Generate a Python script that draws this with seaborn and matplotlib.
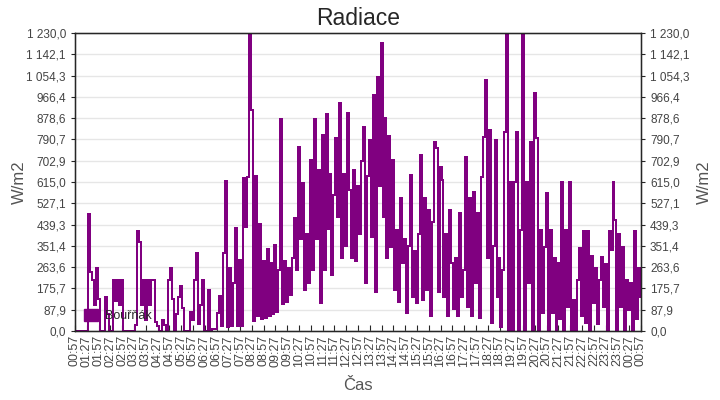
import numpy as np
import pandas as pd
import matplotlib
matplotlib.use("Agg")
import matplotlib.pyplot as plt
from matplotlib.patches import Patch
from matplotlib.ticker import FuncFormatter
import seaborn as sns

# radiation samples every 5 minutes from 00:57 to 00:57 next day (W/m2)
# one row = one hour
radiace = [
    0, 0, 0, 0, 0, 0, 0, 483, 245, 210, 107, 260,
    132, 0, 0, 0, 142, 70, 0, 0, 210, 124, 210, 107,
    210, 0, 0, 0, 0, 0, 0, 25, 413, 367, 107, 210,
    45, 210, 107, 210, 210, 38, 20, 0, 0, 45, 25, 0,
    210, 260, 132, 0, 70, 142, 185, 95, 0, 0, 0, 78,
    45, 210, 320, 28, 107, 210, 0, 0, 170, 0, 7, 7,
    10, 74, 144, 20, 320, 620, 15, 260, 20, 200, 425, 20,
    293, 20, 630, 430, 637, 1230, 912, 40, 640, 60, 440, 50,
    290, 55, 340, 60, 280, 70, 355, 80, 250, 874, 110, 290,
    120, 260, 150, 300, 467, 250, 760, 380, 610, 170, 400, 200,
    705, 250, 874, 380, 665, 115, 809, 250, 895, 420, 650, 230,
    560, 797, 470, 942, 300, 650, 350, 900, 580, 300, 665, 290,
    600, 400, 700, 840, 200, 640, 788, 390, 975, 160, 1050, 600,
    1190, 470, 880, 300, 805, 345, 705, 170, 415, 120, 550, 280,
    380, 75, 350, 645, 140, 330, 115, 400, 725, 130, 550, 170,
    500, 60, 450, 780, 755, 160, 675, 623, 140, 400, 60, 500,
    280, 90, 300, 60, 487, 140, 250, 720, 100, 549, 60, 573,
    200, 487, 54, 637, 801, 1036, 300, 830, 33, 350, 788, 140,
    300, 17, 250, 821, 1230, 0, 615, 0, 615, 821, 0, 415,
    1230, 0, 615, 200, 780, 0, 984, 797, 0, 415, 75, 345,
    570, 0, 417, 75, 300, 0, 280, 50, 615, 0, 415, 100,
    615, 0, 128, 0, 210, 342, 60, 413, 33, 413, 0, 310,
    115, 261, 30, 210, 305, 100, 277, 0, 413, 335, 616, 457,
    0, 400, 100, 348, 0, 210, 87, 200, 0, 413, 50, 261,
    140,
]
krok_min = 5
start = "00:57"
y_max = 1230.0
y_kroky = 14
serie = "Bouřňák"
barva = "#800080"

minuty = np.arange(len(radiace)) * krok_min
df = pd.DataFrame({"minuty": minuty, "radiace": radiace})

# x ticks every 30 minutes, labelled with clock time
x_ticks = np.arange(0, 1441, 30)
t0 = pd.Timestamp("2020-01-01 " + start)
x_labels = [(t0 + pd.Timedelta(minutes=int(m))).strftime("%H:%M") for m in x_ticks]
y_ticks = np.linspace(0, y_max, y_kroky + 1)


def cz_format(v, pos=None):
    return f"{v:,.1f}".replace(",", " ").replace(".", ",")


sns.set_style("white")
plt.rcParams["font.family"] = ["Liberation Sans", "DejaVu Sans"]

fig = plt.figure(figsize=(7.2, 4.0), dpi=100)
ax = fig.add_axes([75 / 720, 1 - 331 / 400, 566 / 720, 298 / 400])

sns.lineplot(data=df, x="minuty", y="radiace", ax=ax, color=barva,
             linewidth=1.4, drawstyle="steps-mid", estimator=None,
             antialiased=False)

ax.set_xlim(0, 1440)
ax.set_ylim(0, y_max)
ax.set_yticks(y_ticks)
ax.yaxis.set_major_formatter(FuncFormatter(cz_format))
ax.set_xticks(x_ticks)
ax.set_xticklabels(x_labels, rotation=90)
ax.grid(axis="y", color="#e6e6e6", linewidth=1)
ax.set_axisbelow(True)

ax.tick_params(axis="x", direction="in", length=4, bottom=True, labelsize=9,
               labelcolor="#444444", pad=3)
ax.tick_params(axis="y", direction="out", length=3, left=True, labelsize=8.5,
               labelcolor="#444444")
for s in ax.spines.values():
    s.set_color("black")
    s.set_linewidth(1)

ax2 = ax.twinx()
ax2.set_ylim(0, y_max)
ax2.set_yticks(y_ticks)
ax2.yaxis.set_major_formatter(FuncFormatter(cz_format))
ax2.tick_params(axis="y", direction="out", length=3, right=True, labelsize=8.5,
                labelcolor="#444444")
ax2.set_ylabel("W/m2", fontsize=12, color="#555555")
ax2.yaxis.set_label_coords((697 - 75) / 566, 0.5)
ax2.grid(False)

ax.set_title("Radiace", fontsize=16.5, pad=6)
ax.set_xlabel("Čas", fontsize=12, color="#555555", labelpad=8)
ax.set_ylabel("W/m2", fontsize=12, color="#555555")
ax.yaxis.set_label_coords((27 - 75) / 566, 0.5)

ax.legend(handles=[Patch(color=barva, label=serie)], loc="lower left",
          frameon=False, fontsize=9, handlelength=1.1, handleheight=1.1,
          borderaxespad=0.3, handletextpad=0.6)

fig.savefig("out.png", dpi=100)
